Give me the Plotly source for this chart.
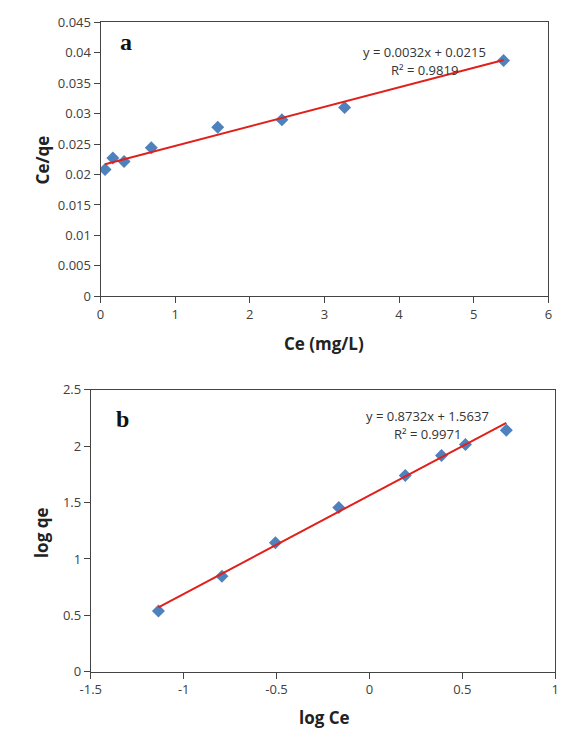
import plotly.graph_objects as go

# Panel a: Langmuir
ce_a = [0.06, 0.165, 0.315, 0.68, 1.57, 2.43, 3.27, 5.40]
ceqe_a = [0.0208, 0.0227, 0.02215, 0.0244, 0.02776, 0.0290, 0.0310, 0.0387]
slope_a, icpt_a = 0.0032, 0.0215
xt_a = [0, 1, 2, 3, 4, 5, 6]
xt_a_txt = ["0", "1", "2", "3", "4", "5", "6"]
yt_a = [0, 0.005, 0.01, 0.015, 0.02, 0.025, 0.03, 0.035, 0.04, 0.045]
yt_a_txt = ["0", "0.005", "0.01", "0.015", "0.02", "0.025", "0.03", "0.035", "0.04", "0.045"]

# Panel b: Freundlich
logce_b = [-1.136, -0.794, -0.506, -0.165, 0.193, 0.388, 0.517, 0.737]
logqe_b = [0.539, 0.848, 1.144, 1.456, 1.741, 1.918, 2.016, 2.142]
slope_b, icpt_b = 0.8732, 1.5637
xt_b = [-1.5, -1, -0.5, 0, 0.5, 1]
xt_b_txt = ["-1.5", "-1", "-0.5", "0", "0.5", "1"]
yt_b = [0, 0.5, 1, 1.5, 2, 2.5]
yt_b_txt = ["0", "0.5", "1", "1.5", "2", "2.5"]

BLUE = "#4F81BD"
RED = "#E0201B"
TICKC = "#404040"
FONT = "Open Sans"

fig = go.Figure()

fig.add_trace(go.Scatter(x=ce_a, y=ceqe_a, mode="markers",
                         marker=dict(symbol="diamond", size=10, color=BLUE),
                         xaxis="x", yaxis="y", showlegend=False))
la_x = [ce_a[0], ce_a[-1]]
fig.add_trace(go.Scatter(x=la_x, y=[slope_a * v + icpt_a for v in la_x], mode="lines",
                         line=dict(color=RED, width=2), xaxis="x", yaxis="y", showlegend=False))

fig.add_trace(go.Scatter(x=logce_b, y=logqe_b, mode="markers",
                         marker=dict(symbol="diamond", size=10, color=BLUE),
                         xaxis="x2", yaxis="y2", showlegend=False))
lb_x = [logce_b[0], logce_b[-1]]
fig.add_trace(go.Scatter(x=lb_x, y=[slope_b * v + icpt_b for v in lb_x], mode="lines",
                         line=dict(color=RED, width=2), xaxis="x2", yaxis="y2", showlegend=False))

ax_common = dict(showgrid=False, zeroline=False, showline=True, linecolor="#444444",
                 linewidth=1, mirror=True, ticks="outside", ticklen=6, tickcolor="#444444",
                 tickfont=dict(family=FONT, size=13, color=TICKC))

fig.update_layout(
    width=565, height=740, margin=dict(l=0, r=0, t=0, b=0),
    paper_bgcolor="white", plot_bgcolor="white",
    xaxis=dict(domain=[92 / 565, 552 / 565], range=[0, 6], tickvals=xt_a, ticktext=xt_a_txt,
               anchor="y", **ax_common),
    yaxis=dict(domain=[1 - 294.5 / 740, 1 - 13.5 / 740], range=[0, 0.045], tickvals=yt_a,
               ticktext=yt_a_txt, anchor="x", **ax_common),
    xaxis2=dict(domain=[82 / 565, 559 / 565], range=[-1.5, 1], tickvals=xt_b, ticktext=xt_b_txt,
                anchor="y2", **ax_common),
    yaxis2=dict(domain=[1 - 679.3 / 740, 1 - 390.3 / 740], range=[0, 2.5], tickvals=yt_b,
                ticktext=yt_b_txt, anchor="x2", **ax_common),
)

ann = []
def txt(x, y, s, size=12, bold=False, family=FONT, rot=0, color="#222222"):
    ann.append(dict(x=x / 565, y=1 - y / 740, xref="paper", yref="paper", text=(f"<b>{s}</b>" if bold else s),
                    showarrow=False, textangle=rot, font=dict(family=family, size=size, color=color),
                    xanchor="center", yanchor="middle"))

txt(118, 34, "a", size=24, bold=True, family="Liberation Serif", color="#111111")
txt(115, 420, "b", size=24, bold=True, family="Liberation Serif", color="#111111")
txt(425, 44, "y = 0.0032x + 0.0215", size=13, color="#333333")
txt(425, 63, "R² = 0.9819", size=13, color="#333333")
txt(428, 417, "y = 0.8732x + 1.5637", size=13, color="#333333")
txt(428, 436, "R² = 0.9971", size=13, color="#333333")
txt(322, 343, "Ce (mg/L)", size=17, bold=True)
txt(32, 155, "Ce/qe", size=17, bold=True, rot=-90)
txt(322, 726, "log Ce", size=17, bold=True)
txt(32, 537, "log qe", size=17, bold=True, rot=-90)
fig.update_layout(annotations=ann)

fig.write_html("out.html")
